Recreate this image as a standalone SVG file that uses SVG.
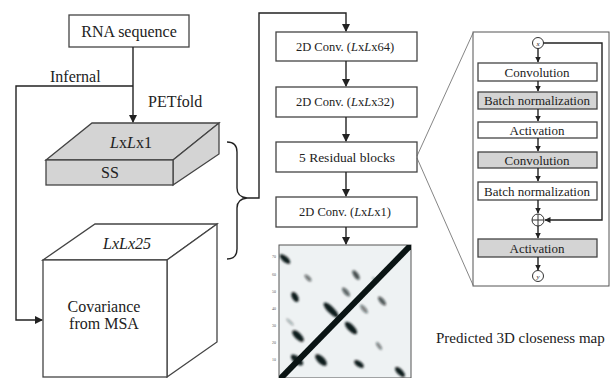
<svg xmlns="http://www.w3.org/2000/svg" width="611" height="378" viewBox="0 0 611 378" font-family="'Liberation Serif', 'DejaVu Serif', serif">
  <style>
    text { font-family: "Liberation Serif", "DejaVu Serif", serif; fill: #222; }
    .box { fill: #fff; stroke: #444; stroke-width: 1.3; }
    .gbox { fill: #d4d4d4; stroke: #444; stroke-width: 1.3; }
    .edge { fill: none; stroke: #222; stroke-width: 1.4; }
    .thin { fill: none; stroke: #666; stroke-width: 0.8; }
    .it { font-style: italic; }
    .t16 { font-size: 16px; }
    .t12 { font-size: 12.5px; }
    .t13 { font-size: 13px; }
    .tick { font-size: 4px; fill: #555; }
  </style>
  <defs>
    <marker id="arr" markerWidth="8" markerHeight="8" refX="7" refY="4" orient="auto" markerUnits="userSpaceOnUse">
      <path d="M0,0 L8,4 L0,8 z" fill="#222"/>
    </marker>
    <marker id="arrs" markerWidth="6" markerHeight="6" refX="5.5" refY="3" orient="auto" markerUnits="userSpaceOnUse">
      <path d="M0,0 L6,3 L0,6 z" fill="#222"/>
    </marker>
    <filter id="soft" x="-20%" y="-20%" width="140%" height="140%">
      <feGaussianBlur stdDeviation="0.8"/>
    </filter>
    <clipPath id="mapclip"><rect x="279" y="245" width="132" height="133"/></clipPath>
  </defs>

  <!-- input sequence -->
  <g id="rna">
    <rect class="box" x="69" y="15" width="120" height="32"/>
    <text class="t16" x="129" y="37" text-anchor="middle">RNA sequence</text>
  </g>

  <!-- secondary structure slab -->
  <g id="ss">
    <polygon class="gbox" points="46,160 92,123 219,123 173,160"/>
    <polygon class="gbox" points="173,160 219,123 219,154 173,185"/>
    <rect class="gbox" x="46" y="160" width="127" height="25"/>
    <text class="t16" x="131" y="148" text-anchor="middle"><tspan class="it">L</tspan>x<tspan class="it">L</tspan>x1</text>
    <text class="t16" x="110" y="178" text-anchor="middle">SS</text>
  </g>

  <!-- covariance cube -->
  <g id="cov">
    <polygon class="box" points="43,260 95,224 217,224 167,260"/>
    <polygon class="box" points="167,260 217,224 217,342 167,377"/>
    <rect class="box" x="43" y="260" width="124" height="117"/>
    <text class="t16 it" x="127" y="249" text-anchor="middle">LxLx25</text>
    <text class="t16" x="104" y="312" text-anchor="middle">Covariance</text>
    <text class="t16" x="104" y="329" text-anchor="middle">from MSA</text>
  </g>

  <!-- network layers -->
  <g id="conv64">
    <rect class="box" x="276" y="32" width="141" height="29"/>
    <text class="t12" x="345" y="51" text-anchor="middle">2D Conv. (<tspan class="it">L</tspan>x<tspan class="it">L</tspan>x64)</text>
  </g>
  <g id="conv32">
    <rect class="box" x="276" y="87" width="141" height="30"/>
    <text class="t12" x="345" y="106" text-anchor="middle">2D Conv. (<tspan class="it">L</tspan>x<tspan class="it">L</tspan>x32)</text>
  </g>
  <g id="resblocks">
    <rect class="box" x="276" y="142" width="141" height="30"/>
    <text x="347" y="162" font-size="13.5" text-anchor="middle">5 Residual blocks</text>
  </g>
  <g id="conv1">
    <rect class="box" x="276" y="197" width="141" height="30"/>
    <text class="t12" x="345" y="216" text-anchor="middle">2D Conv. (<tspan class="it">L</tspan>x<tspan class="it">L</tspan>x1)</text>
  </g>

  <!-- predicted contact map -->
  <g id="map">
    <rect x="279" y="245" width="132" height="133" fill="#eef2f3" stroke="#555" stroke-width="1"/>
    <g clip-path="url(#mapclip)">
      <g filter="url(#soft)" fill="#0d1a1a">
        <ellipse cx="285" cy="259" rx="6.5" ry="2.8" transform="rotate(40 285 259)"/>
        <ellipse cx="308" cy="278" rx="4.5" ry="2" transform="rotate(45 308 278)" opacity="0.55"/>
        <ellipse cx="295" cy="297" rx="5.5" ry="3" transform="rotate(60 295 297)"/>
        <ellipse cx="331" cy="310" rx="10" ry="3.3" transform="rotate(45 331 310)"/>
        <ellipse cx="351" cy="328" rx="8" ry="3.3" transform="rotate(45 351 328)"/>
        <ellipse cx="356" cy="275" rx="5.5" ry="2.4" transform="rotate(55 356 275)" opacity="0.75"/>
        <ellipse cx="346" cy="292" rx="5.5" ry="2.4" transform="rotate(50 346 292)" opacity="0.65"/>
        <ellipse cx="364" cy="309" rx="5.5" ry="2.2" transform="rotate(50 364 309)" opacity="0.5"/>
        <ellipse cx="382" cy="301" rx="5.5" ry="2.4" transform="rotate(50 382 301)" opacity="0.7"/>
        <ellipse cx="298" cy="336" rx="7.5" ry="3.3" transform="rotate(45 298 336)"/>
        <ellipse cx="297" cy="360" rx="7.5" ry="3.5" transform="rotate(40 297 360)"/>
        <ellipse cx="321" cy="360" rx="7.5" ry="3.5" transform="rotate(45 321 360)"/>
        <ellipse cx="359" cy="364" rx="5.5" ry="2.8" transform="rotate(35 359 364)"/>
        <ellipse cx="379" cy="346" rx="4.5" ry="1.8" transform="rotate(55 379 346)" opacity="0.5"/>
        <ellipse cx="400" cy="372" rx="6.5" ry="2.8" transform="rotate(45 400 372)"/>
        <ellipse cx="290" cy="322" rx="5" ry="1.5" transform="rotate(45 290 322)" opacity="0.3"/>
        <ellipse cx="375" cy="280" rx="4" ry="1.5" transform="rotate(45 375 280)" opacity="0.3"/>
      </g>
      <line x1="279" y1="380" x2="412" y2="244" stroke="#0a1414" stroke-width="6"/>
    </g>
    <text class="tick" x="274" y="258" text-anchor="middle">70</text>
    <text class="tick" x="274" y="276" text-anchor="middle">60</text>
    <text class="tick" x="274" y="293" text-anchor="middle">50</text>
    <text class="tick" x="274" y="310" text-anchor="middle">40</text>
    <text class="tick" x="274" y="327" text-anchor="middle">30</text>
    <text class="tick" x="274" y="344" text-anchor="middle">20</text>
    <text class="tick" x="274" y="361" text-anchor="middle">10</text>
  </g>

  <g id="caption">
    <text x="436" y="343" font-size="15">Predicted 3D closeness map</text>
  </g>

  <!-- residual block detail -->
  <g id="residual">
    <rect x="473" y="32" width="136" height="254" fill="#fff" stroke="#555" stroke-width="1"/>
    <circle cx="538" cy="43" r="5.5" fill="#fff" stroke="#333" stroke-width="1"/>
    <text class="it" x="538" y="45.5" font-size="7" text-anchor="middle">x</text>
    <rect class="box" x="478" y="63" width="119" height="18"/>
    <text class="t13" x="537" y="76.5" text-anchor="middle">Convolution</text>
    <rect class="gbox" x="478" y="92" width="119" height="17"/>
    <text class="t13" x="537" y="105" text-anchor="middle">Batch normalization</text>
    <rect class="box" x="478" y="122" width="119" height="16"/>
    <text class="t13" x="537" y="134.5" text-anchor="middle">Activation</text>
    <rect class="gbox" x="478" y="152" width="119" height="16"/>
    <text class="t13" x="537" y="164.5" text-anchor="middle">Convolution</text>
    <rect class="box" x="478" y="182" width="119" height="18"/>
    <text class="t13" x="537" y="195.5" text-anchor="middle">Batch normalization</text>
    <circle cx="538" cy="220" r="6" fill="#fff" stroke="#333" stroke-width="1"/>
    <path d="M532,220 H544 M538,214 V226" stroke="#333" stroke-width="1"/>
    <rect class="gbox" x="478" y="239" width="119" height="18"/>
    <text class="t13" x="537" y="252.5" text-anchor="middle">Activation</text>
    <circle cx="538" cy="276" r="5.5" fill="#fff" stroke="#333" stroke-width="1"/>
    <text class="it" x="538" y="278.5" font-size="7" text-anchor="middle">y</text>
  </g>

  <!-- connectors -->
  <g id="connectors">
    <path class="edge" d="M133,47 V122" marker-end="url(#arr)"/>
    <path class="edge" d="M133,86 H16 V320 H42" marker-end="url(#arr)"/>
    <path class="edge" d="M227,142 Q237,142 237,152 V188 Q237,197 247,198 Q237,199 237,208 V249 Q237,259 227,259"/>
    <path class="edge" d="M247,198 H259 V13 H346 V31" marker-end="url(#arr)"/>
    <path class="edge" d="M346,61 V86" marker-end="url(#arr)"/>
    <path class="edge" d="M346,117 V141" marker-end="url(#arr)"/>
    <path class="edge" d="M346,172 V196" marker-end="url(#arr)"/>
    <path class="edge" d="M346,227 V244" marker-end="url(#arr)"/>
    <path class="thin" d="M417,156 L473,33 M417,158 L473,285"/>
    <g stroke-width="1.1">
      <path class="edge" d="M538,48.5 V62" marker-end="url(#arrs)"/>
      <path class="edge" d="M538,81 V91" marker-end="url(#arrs)"/>
      <path class="edge" d="M538,109 V121" marker-end="url(#arrs)"/>
      <path class="edge" d="M538,138 V151" marker-end="url(#arrs)"/>
      <path class="edge" d="M538,168 V181" marker-end="url(#arrs)"/>
      <path class="edge" d="M538,200 V213" marker-end="url(#arrs)"/>
      <path class="edge" d="M538,226 V238" marker-end="url(#arrs)"/>
      <path class="edge" d="M538,257 V270" marker-end="url(#arrs)"/>
      <path class="edge" d="M543.5,43 H602 V220 H545" marker-end="url(#arrs)"/>
    </g>
  </g>

  <g id="labels">
    <text class="t16" x="50" y="82">Infernal</text>
    <text class="t16" x="148" y="107">PETfold</text>
  </g>
</svg>
